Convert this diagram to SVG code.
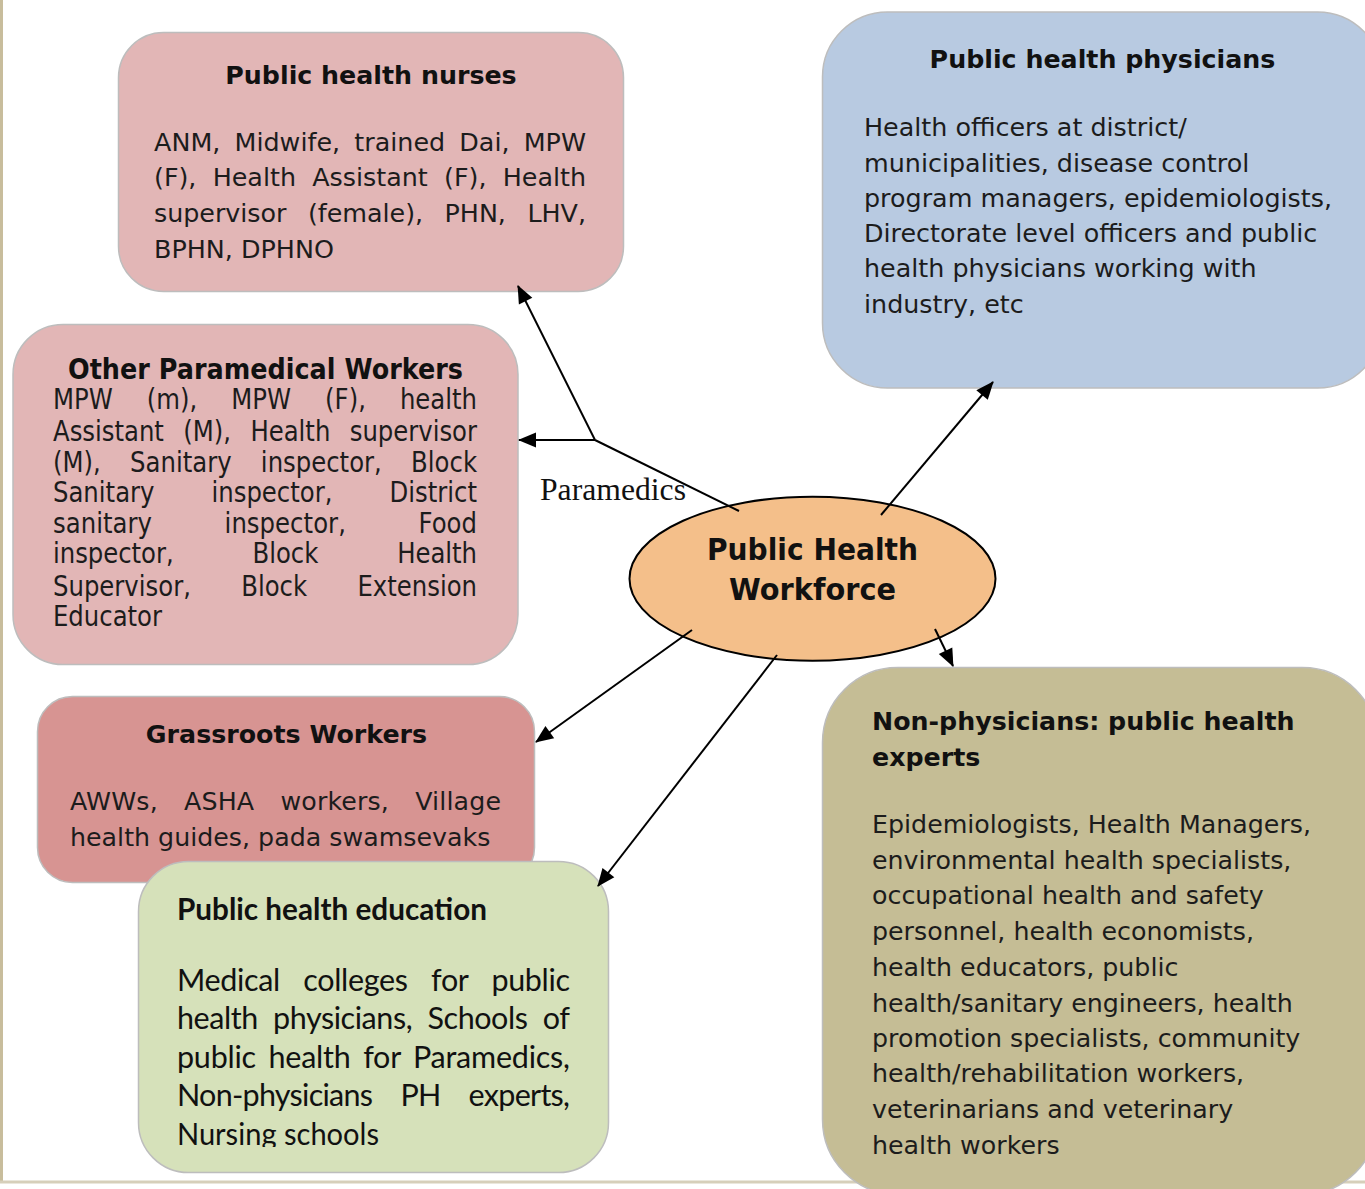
<svg xmlns="http://www.w3.org/2000/svg" width="1365" height="1189" viewBox="0 0 1365 1189">
<style>
.box{stroke:#bdbdbd;stroke-width:1.5}
.t{font-family:"DejaVu Sans","Liberation Sans",sans-serif;fill:#1c1c1c}
.tb{font-family:"DejaVu Sans","Liberation Sans",sans-serif;font-weight:bold;fill:#111}
.cal{font-family:Lato,"Open Sans",sans-serif;fill:#111}
.conn{stroke:#000;stroke-width:2;fill:none}
</style>
<defs>
<marker id="ah" markerUnits="userSpaceOnUse" markerWidth="18" markerHeight="15" refX="17" refY="7.5" orient="auto" overflow="visible">
<path d="M0,0 L18,7.5 L0,15 z" fill="#000"/>
</marker>
<clipPath id="eduClip"><rect x="138" y="860" width="472" height="287"/></clipPath>
</defs>
<rect width="1365" height="1189" fill="#fff"/>
<g id="frame">
<line x1="1.5" y1="0" x2="1.5" y2="1183" stroke="#c8bd9c" stroke-width="3"/>
<line x1="0" y1="1182" x2="1365" y2="1182" stroke="#d6cfba" stroke-width="3"/>
</g>

<g id="nurses">
<rect class="box" x="118.5" y="32.5" width="505" height="259" rx="45" fill="#e2b6b6"/>
<text class="tb" x="371" y="83.5" font-size="25.3" text-anchor="middle">Public health nurses</text>
<text class="t" font-size="25.4" x="154" y="150.7" word-spacing="6" textLength="432" lengthAdjust="spacing">ANM, Midwife, trained Dai, MPW</text>
<text class="t" font-size="25.4" x="154" y="185.5" word-spacing="8.2" textLength="432" lengthAdjust="spacing">(F), Health Assistant (F), Health</text>
<text class="t" font-size="25.4" x="154" y="221.7" word-spacing="13.5" textLength="432" lengthAdjust="spacing">supervisor (female), PHN, LHV,</text>
<text class="t" font-size="25.4" x="154" y="258.3">BPHN, DPHNO</text>
</g>

<g id="physicians">
<rect class="box" x="822.5" y="12" width="560" height="376" rx="65" fill="#b8cae1"/>
<text class="tb" x="1102.5" y="68.3" font-size="25.3" text-anchor="middle">Public health physicians</text>
<g class="t" font-size="25.4">
<text x="864" y="136">Health officers at district/</text>
<text x="864" y="171.7">municipalities, disease control</text>
<text x="864" y="206.7">program managers, epidemiologists,</text>
<text x="864" y="242.3">Directorate level officers and public</text>
<text x="864" y="277.3">health physicians working with</text>
<text x="864" y="313.3">industry, etc</text>
</g>
</g>

<g id="other-paramedical">
<rect class="box" x="13" y="324.5" width="505" height="340" rx="50" fill="#e2b6b6"/>
<g transform="scale(0.87 1)">
<text class="tb" x="305.2" y="379" font-size="29" text-anchor="middle" textLength="454" lengthAdjust="spacingAndGlyphs">Other Paramedical Workers</text>
<g class="t" font-size="28">
<text x="60.9" y="409.3" word-spacing="30.2" textLength="487.4" lengthAdjust="spacing">MPW (m), MPW (F), health</text>
<text x="60.9" y="440.7" word-spacing="13.4" textLength="487.4" lengthAdjust="spacing">Assistant (M), Health supervisor</text>
<text x="60.9" y="471.7" word-spacing="24.8" textLength="487.4" lengthAdjust="spacing">(M), Sanitary inspector, Block</text>
<text x="60.9" y="501.7" word-spacing="56.6" textLength="487.4" lengthAdjust="spacing">Sanitary inspector, District</text>
<text x="60.9" y="533.3" word-spacing="74.4" textLength="487.4" lengthAdjust="spacing">sanitary inspector, Food</text>
<text x="60.9" y="563.3" word-spacing="81.7" textLength="487.4" lengthAdjust="spacing">inspector, Block Health</text>
<text x="60.9" y="596" word-spacing="48.9" textLength="487.4" lengthAdjust="spacing">Supervisor, Block Extension</text>
<text x="60.9" y="626">Educator</text>
</g>
</g>
</g>

<g id="grassroots">
<rect class="box" x="37.5" y="696.5" width="497" height="186" rx="35" fill="#d79492"/>
<text class="tb" x="286.5" y="742.7" font-size="25.3" text-anchor="middle">Grassroots Workers</text>
<text class="t" font-size="25.3" x="70" y="809.5" word-spacing="18" textLength="431" lengthAdjust="spacing">AWWs, ASHA workers, Village</text>
<text class="t" font-size="25.3" x="70" y="845.6">health guides, pada swamsevaks</text>
</g>

<g id="education">
<rect class="box" x="138.5" y="861.5" width="470" height="311" rx="50" fill="#d6e1ba"/>
<text class="cal" x="177" y="919.8" font-size="31" font-weight="bold" textLength="310" lengthAdjust="spacingAndGlyphs">Public health education</text>
<g class="cal" font-size="30.5" clip-path="url(#eduClip)">
<text x="177" y="990.6" word-spacing="16" textLength="393" lengthAdjust="spacing">Medical colleges for public</text>
<text x="177" y="1029.4" word-spacing="8" textLength="393" lengthAdjust="spacing">health physicians, Schools of</text>
<text x="177" y="1068.2" word-spacing="5" textLength="393" lengthAdjust="spacing">public health for Paramedics,</text>
<text x="177" y="1106" word-spacing="21" textLength="393" lengthAdjust="spacing">Non-physicians PH experts,</text>
<text x="177" y="1145.2" textLength="202" lengthAdjust="spacingAndGlyphs">Nursing schools</text>
</g>
</g>

<g id="non-physicians">
<rect class="box" x="822.5" y="667.5" width="555" height="527" rx="75" fill="#c5bd95"/>
<text class="tb" font-size="25.3" x="872" y="730.3">Non-physicians: public health</text>
<text class="tb" font-size="25.3" x="872" y="766">experts</text>
<g class="t" font-size="25.3">
<text x="872" y="833.3">Epidemiologists, Health Managers,</text>
<text x="872" y="869.3">environmental health specialists,</text>
<text x="872" y="904.4">occupational health and safety</text>
<text x="872" y="940.4">personnel, health economists,</text>
<text x="872" y="976.1">health educators, public</text>
<text x="872" y="1011.8">health/sanitary engineers, health</text>
<text x="872" y="1047.2">promotion specialists, community</text>
<text x="872" y="1082.2">health/rehabilitation workers,</text>
<text x="872" y="1118">veterinarians and veterinary</text>
<text x="872" y="1153.7">health workers</text>
</g>
</g>

<g id="workforce">
<ellipse cx="812.5" cy="578.7" rx="183" ry="82" fill="#f4bf8a" stroke="#000" stroke-width="2"/>
<text class="tb" x="812.5" y="560" font-size="31" text-anchor="middle" textLength="211" lengthAdjust="spacingAndGlyphs">Public Health</text>
<text class="tb" x="812.5" y="600" font-size="31" text-anchor="middle" textLength="167" lengthAdjust="spacingAndGlyphs">Workforce</text>
</g>

<g id="connectors">
<line class="conn" x1="739" y1="511" x2="595" y2="440"/>
<line class="conn" x1="595" y1="440" x2="519" y2="440" marker-end="url(#ah)"/>
<line class="conn" x1="595" y1="440" x2="518" y2="286" marker-end="url(#ah)"/>
<line class="conn" x1="881" y1="515" x2="993" y2="382" marker-end="url(#ah)"/>
<line class="conn" x1="935" y1="629" x2="953" y2="666" marker-end="url(#ah)"/>
<line class="conn" x1="692" y1="630" x2="536" y2="742" marker-end="url(#ah)"/>
<line class="conn" x1="777" y1="655" x2="598" y2="886" marker-end="url(#ah)"/>
<text x="540" y="500" font-family="'Liberation Serif',serif" font-size="31" fill="#111" textLength="146" lengthAdjust="spacingAndGlyphs">Paramedics</text>
</g>
</svg>
